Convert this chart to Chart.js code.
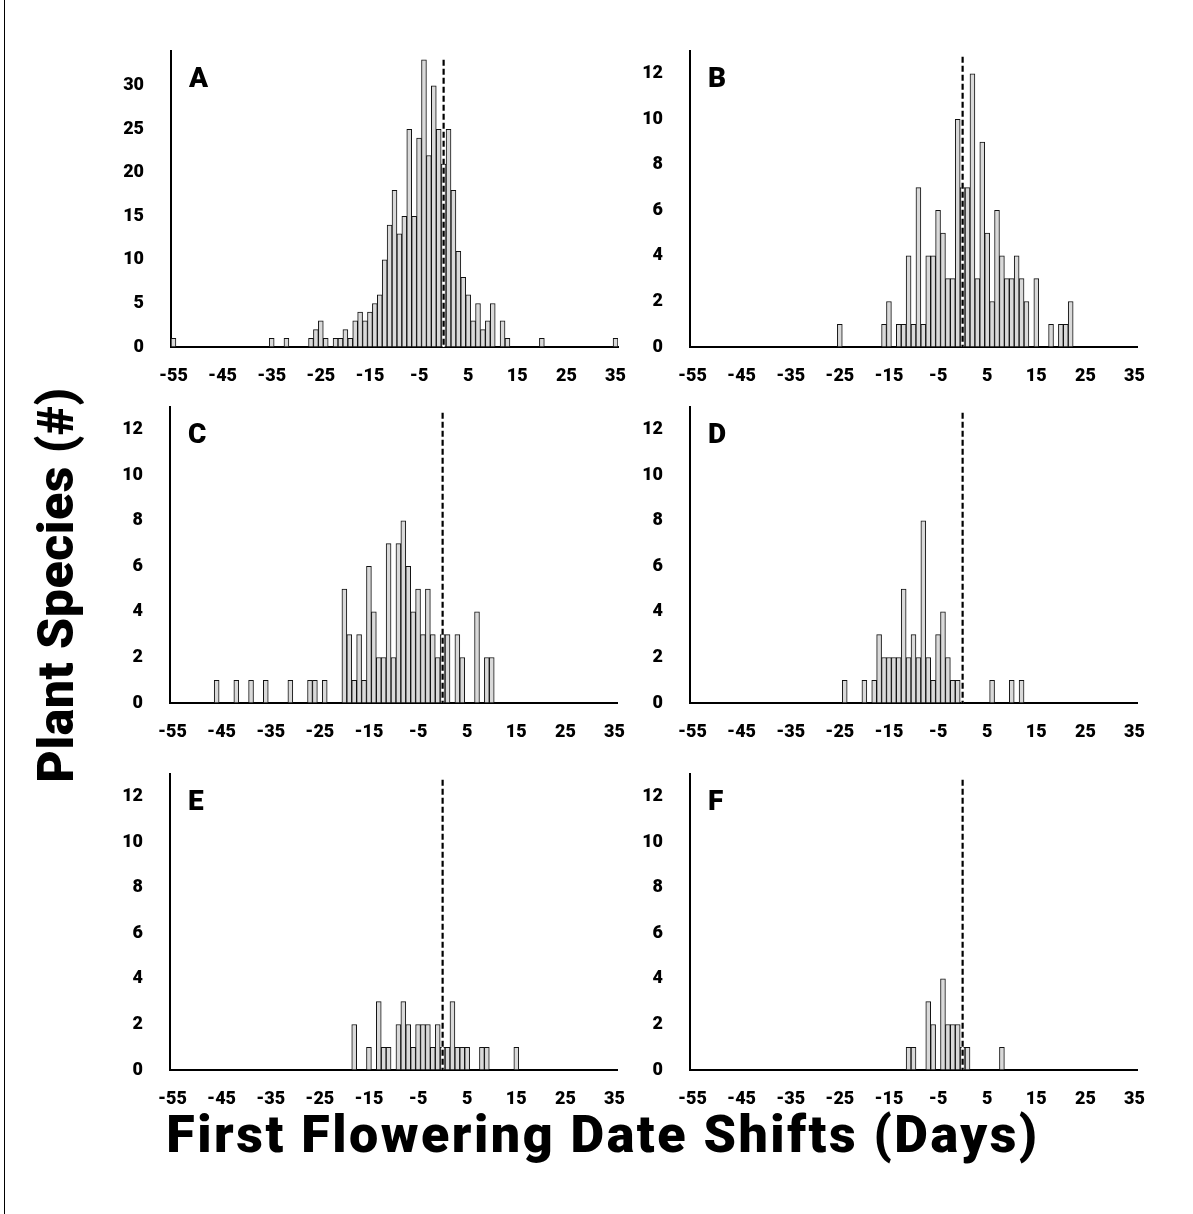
<!DOCTYPE html>
<html>
<head>
<meta charset="utf-8">
<script src="https://cdn.jsdelivr.net/npm/chart.js@4.4.1/dist/chart.umd.min.js"></script>
<style>
  body { margin: 0; background: #fff; width: 1193px; height: 1214px; position: relative; overflow: hidden; font-family: Roboto, "Liberation Sans", sans-serif; }
  .frame { position: absolute; left: 4px; top: 0; width: 1px; height: 1214px; background: #000; }
  canvas { position: absolute; }
  .ytitle { position: absolute; left: 56px; top: 585px; transform: translate(-50%, -50%) rotate(-90deg); font-weight: 900; font-size: 50px; letter-spacing: 0.5px; white-space: nowrap; color: #000; }
  .xtitle { position: absolute; left: 603px; top: 1134px; transform: translate(-50%, -50%); font-weight: 900; font-size: 52px; letter-spacing: 2.5px; white-space: nowrap; color: #000; }
</style>
</head>
<body>
<div class="frame"></div>
<div class="ytitle">Plant Species (#)</div>
<div class="xtitle">First Flowering Date Shifts (Days)</div>
<script>
// day bins shown on every x axis
const allDays = [];
for (let d = -55; d <= 35; d++) allDays.push(d);
const xTickLabels = [-55, -45, -35, -25, -15, -5, 5, 15, 25, 35];
const yTicksA = [0, 5, 10, 15, 20, 25, 30];
const yTicksSmall = [0, 2, 4, 6, 8, 10, 12];

// panel A
const daysA = [-55, -35, -32, -27, -26, -25, -24, -22, -21, -20, -19, -18, -17, -16, -15, -14, -13, -12, -11, -10, -9, -8, -7, -6, -5, -4, -3, -2, -1, 0, 1, 2, 3, 4, 5, 6, 7, 8, 9, 10, 12, 13, 20, 35];
const countsA = [1, 1, 1, 1, 2, 3, 1, 1, 1, 2, 1, 3, 4, 3, 4, 5, 6, 10, 14, 18, 13, 15, 25, 15, 24, 33, 22, 30, 25, 21, 25, 18, 11, 8, 6, 3, 5, 2, 3, 5, 3, 1, 1, 1];

// panel B
const daysB = [-25, -16, -15, -13, -12, -11, -10, -9, -8, -7, -6, -5, -4, -3, -2, -1, 0, 1, 2, 3, 4, 5, 6, 7, 8, 9, 10, 11, 12, 13, 15, 18, 20, 21, 22];
const countsB = [1, 1, 2, 1, 1, 4, 1, 7, 1, 4, 4, 6, 5, 3, 3, 10, 7, 7, 12, 3, 9, 5, 2, 6, 4, 3, 3, 4, 3, 2, 3, 1, 1, 1, 2];

// panel C
const daysC = [-46, -42, -39, -36, -31, -27, -26, -24, -20, -19, -18, -17, -16, -15, -14, -13, -12, -11, -10, -9, -8, -7, -6, -5, -4, -3, -2, -1, 0, 1, 3, 4, 7, 9, 10];
const countsC = [1, 1, 1, 1, 1, 1, 1, 1, 5, 3, 1, 3, 1, 6, 4, 2, 2, 7, 2, 7, 8, 6, 4, 5, 3, 5, 3, 2, 3, 3, 3, 2, 4, 2, 2];

// panel D
const daysD = [-24, -20, -18, -17, -16, -15, -14, -13, -12, -11, -10, -9, -8, -7, -6, -5, -4, -3, -2, -1, 6, 10, 12];
const countsD = [1, 1, 1, 3, 2, 2, 2, 2, 5, 2, 3, 2, 8, 2, 1, 3, 4, 2, 1, 1, 1, 1, 1];

// panel E
const daysE = [-18, -15, -13, -12, -11, -9, -8, -7, -6, -5, -4, -3, -2, -1, 0, 1, 2, 3, 4, 5, 8, 9, 15];
const countsE = [2, 1, 3, 1, 1, 2, 3, 2, 1, 2, 2, 2, 1, 2, 1, 1, 3, 1, 1, 1, 1, 1, 1];

// panel F
const daysF = [-11, -10, -7, -6, -4, -3, -2, -1, 0, 1, 8];
const countsF = [1, 1, 3, 2, 4, 2, 2, 2, 1, 1, 1];

const FONT = "Roboto, 'Liberation Sans', sans-serif";

const panels = [
  { letter: "A", days: daysA, counts: countsA, left: 171, top: 51, yMax: 34, yTicks: yTicksA, dashTop: 33 },
  { letter: "B", days: daysB, counts: countsB, left: 690, top: 51, yMax: 13, yTicks: yTicksSmall, dashTop: 12.75 },
  { letter: "C", days: daysC, counts: countsC, left: 170, top: 407, yMax: 13, yTicks: yTicksSmall, dashTop: 12.75 },
  { letter: "D", days: daysD, counts: countsD, left: 690, top: 407, yMax: 13, yTicks: yTicksSmall, dashTop: 12.75 },
  { letter: "E", days: daysE, counts: countsE, left: 170, top: 774, yMax: 13, yTicks: yTicksSmall, dashTop: 12.75 },
  { letter: "F", days: daysF, counts: countsF, left: 690, top: 774, yMax: 13, yTicks: yTicksSmall, dashTop: 12.75 },
];

// dashed vertical line at zero shift
const zeroLine = {
  id: "zeroLine",
  afterDatasetsDraw(chart, args, opts) {
    const ctx = chart.ctx;
    const x = chart.scales.x.getPixelForValue(allDays.indexOf(0));
    const y0 = chart.scales.y.getPixelForValue(0);
    const y1 = chart.scales.y.getPixelForValue(opts.top);
    ctx.save();
    ctx.strokeStyle = "#fff";
    ctx.lineWidth = 2;
    ctx.beginPath();
    ctx.moveTo(x, y0);
    ctx.lineTo(x, y1);
    ctx.stroke();
    ctx.strokeStyle = "#000";
    ctx.lineWidth = 2.2;
    ctx.setLineDash([6, 3]);
    ctx.beginPath();
    ctx.moveTo(x, y1);
    ctx.lineTo(x, y0);
    ctx.stroke();
    ctx.restore();
  },
};

// panel letter in the upper left corner
const panelLetter = {
  id: "panelLetter",
  afterDraw(chart, args, opts) {
    const ctx = chart.ctx;
    ctx.save();
    ctx.fillStyle = "#000";
    ctx.font = "900 28px " + FONT;
    ctx.textBaseline = "top";
    ctx.fillText(opts.text, chart.chartArea.left + 18, chart.chartArea.top + 15);
    ctx.restore();
  },
};

// the y tick padding also pads the top of the chart area, so leave room for it
const PAD_L = 100, PAD_R = 35, PAD_T = 42, PAD_B = 50;
const AREA_W = 447, AREA_H = 296;

panels.forEach((p) => {
  const canvas = document.createElement("canvas");
  canvas.width = PAD_L + AREA_W + PAD_R;
  canvas.height = PAD_T + AREA_H + PAD_B;
  canvas.style.left = p.left - PAD_L + "px";
  canvas.style.top = p.top - PAD_T + "px";
  document.body.appendChild(canvas);

  const values = allDays.map((d) => {
    const k = p.days.indexOf(d);
    return k < 0 ? null : p.counts[k];
  });

  new Chart(canvas.getContext("2d"), {
    type: "bar",
    data: {
      labels: allDays.map(String),
      datasets: [
        {
          data: values,
          backgroundColor: "#d9d9d9",
          borderColor: "#111",
          borderWidth: 1,
          borderSkipped: false,
          categoryPercentage: 1,
          barPercentage: 1,
        },
      ],
    },
    options: {
      responsive: false,
      animation: false,
      events: [],
      layout: { padding: { left: 0, right: PAD_R, top: PAD_T, bottom: 0 } },
      plugins: {
        legend: { display: false },
        tooltip: { enabled: false },
        zeroLine: { top: p.dashTop },
        panelLetter: { text: p.letter },
      },
      scales: {
        x: {
          grid: { display: false, drawTicks: false },
          border: { display: true, color: "#000", width: 2 },
          ticks: {
            autoSkip: false,
            maxRotation: 0,
            minRotation: 0,
            padding: 19,
            color: "#000",
            font: { family: FONT, size: 18, weight: "900" },
            callback: (v, i) => (xTickLabels.includes(allDays[i]) ? String(allDays[i]) : ""),
          },
          afterFit: (s) => { s.height = PAD_B; },
        },
        y: {
          min: 0,
          max: p.yMax,
          grid: { display: false, drawTicks: false },
          border: { display: true, color: "#000", width: 2 },
          ticks: {
            padding: 27,
            color: "#000",
            font: { family: FONT, size: 18, weight: "900" },
          },
          afterBuildTicks: (s) => { s.ticks = p.yTicks.map((v) => ({ value: v })); },
          afterFit: (s) => { s.width = PAD_L; },
        },
      },
    },
    plugins: [zeroLine, panelLetter],
  });
});
</script>
</body>
</html>
